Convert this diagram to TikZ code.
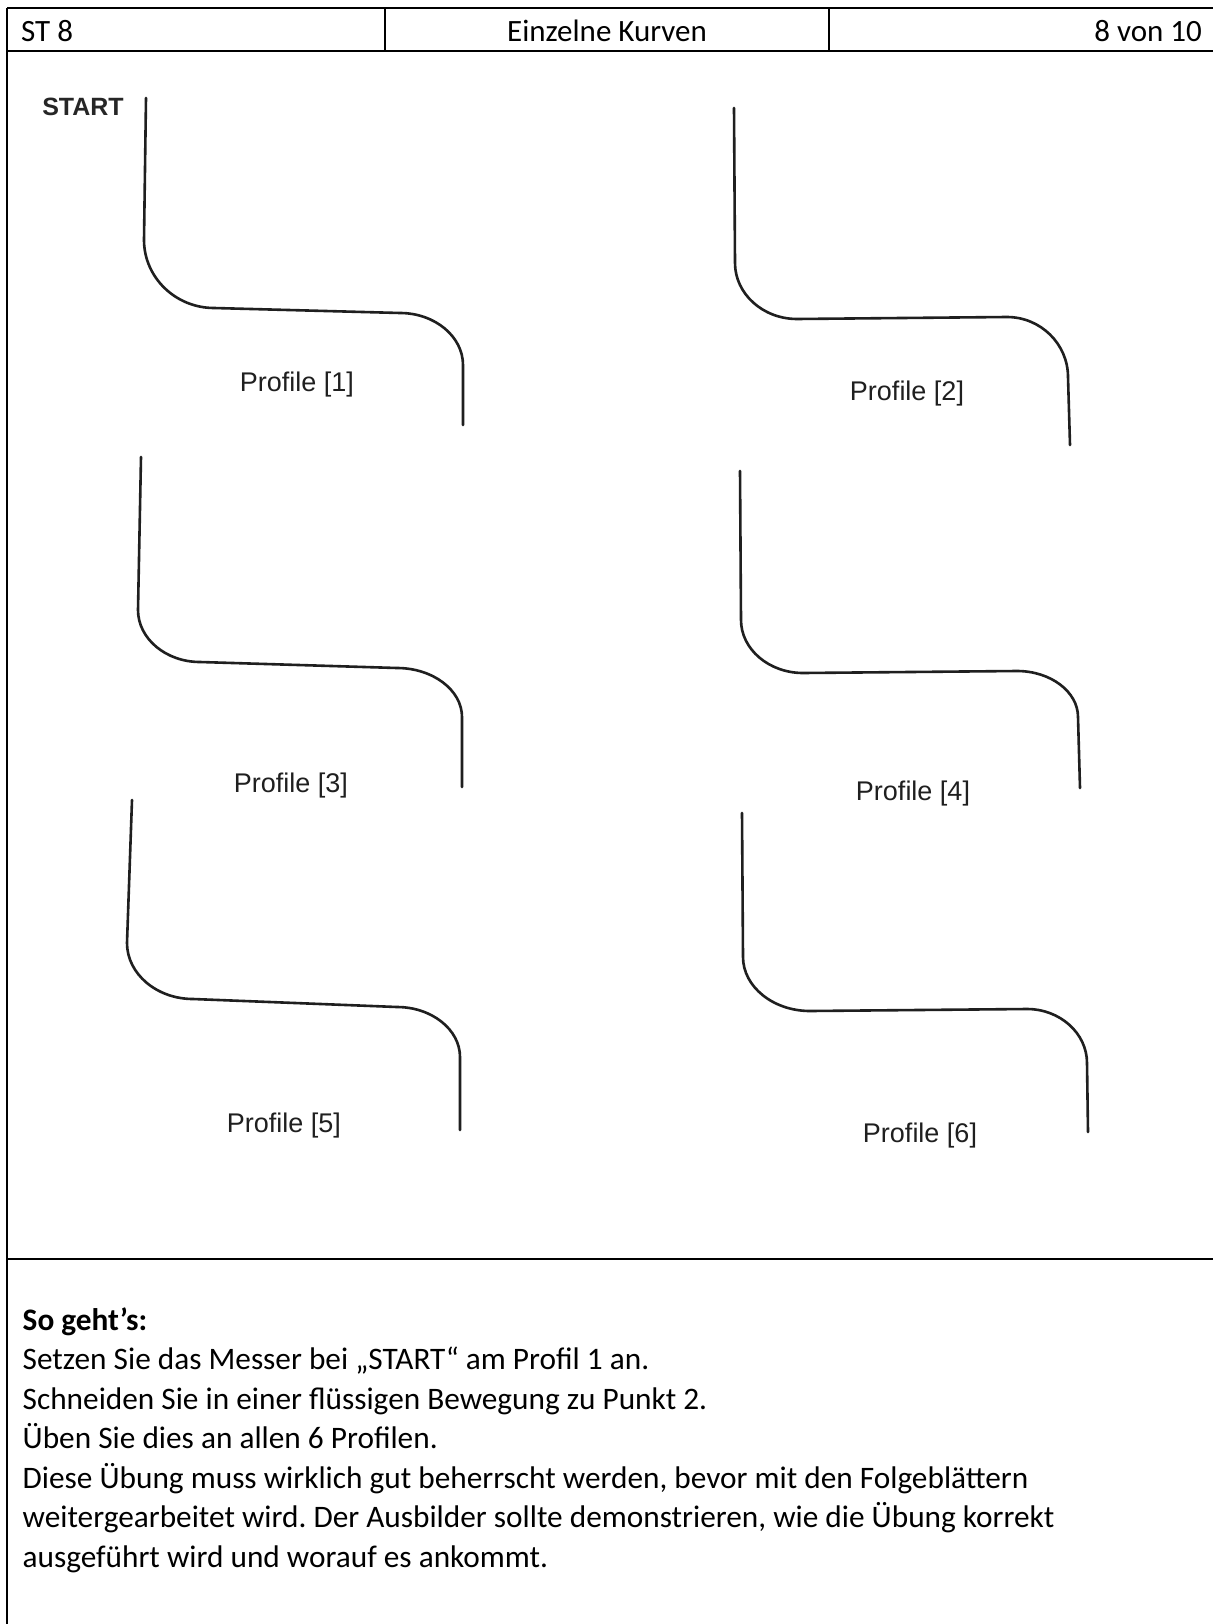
\documentclass[tikz,border=0pt]{standalone}
\usepackage{fontspec}
\setmainfont{Carlito}
\newfontfamily\labelfont{Liberation Sans}
\frenchspacing
\begin{document}
\begin{tikzpicture}[x=1pt,y=-1pt,
  tableline/.style={line width=2.2pt, draw=black},
  cutline/.style={line width=2.6pt, draw=black!88, line cap=round, line join=round},
  proflabel/.style={font=\labelfont\fontsize{27}{32}\selectfont, text=black!88, inner sep=0pt},
  startlabel/.style={font=\labelfont\bfseries\fontsize{25}{29}\selectfont, text=black!85, inner sep=0pt},
  headtext/.style={font=\fontsize{31}{38}\selectfont, inner sep=0pt},
  bodytext/.style={font=\fontsize{31.3}{38}\selectfont, anchor=base west, inner sep=0pt}]
\useasboundingbox (0,0) rectangle (1213,1624);
\fill[white] (0,0) rectangle (1213,1624);

% table frame
\draw[tableline] (7,8.3) -- (1213,8.3);
\draw[tableline] (7,51) -- (1213,51);
\draw[tableline] (7,8.3) -- (7,1624);
\draw[tableline] (385,8.3) -- (385,51);
\draw[tableline] (829,8.3) -- (829,51);
\draw[tableline] (7,1259) -- (1213,1259);

% header
\node[headtext, anchor=base west] (st) at (21,42) {ST 8};
\node[headtext, anchor=base] (title) at (607,42) {Einzelne Kurven};
\node[headtext, anchor=base east] (page) at (1202,42) {8 von 10};

% profiles
\foreach \tx/\ty/\ax/\ay/\bx/\by/\cx/\cy/\dx/\dy/\ex/\ey in {
  146/98/144/240/214/308/400/313/463/365/463/425,
  734/108/735/263/797/319/1007/317/1068/377/1070/445,
  141/457/138/610/200/662/397/668/462/717/462/787,
  740/471/741/620/803/673/1017/671/1078/717/1080/788,
  132/800/127/943/193/999/397/1007/460/1057/460/1130,
  742/813/743/957/810/1011/1027/1009/1087/1063/1088/1132}{
  \draw[cutline] (\tx,\ty) -- (\ax,\ay)
    .. controls (\ax,{\ay+0.55*(\by-\ay)}) and ({\bx-0.55*(\bx-\ax)},\by) .. (\bx,\by)
    -- (\cx,\cy)
    .. controls ({\cx+0.55*(\dx-\cx)},\cy) and (\dx,{\dy-0.55*(\dy-\cy)}) .. (\dx,\dy)
    -- (\ex,\ey);
}

\node[startlabel] (start) at (83,107) {START};
\node[proflabel] (p1) at (297,385) {Profile [1]};
\node[proflabel] (p2) at (907,394) {Profile [2]};
\node[proflabel] (p3) at (291,786) {Profile [3]};
\node[proflabel] (p4) at (913,794) {Profile [4]};
\node[proflabel] (p5) at (284,1126) {Profile [5]};
\node[proflabel] (p6) at (920,1136) {Profile [6]};

% instructions
\node[bodytext] (l0) at (22.5,1330) {\bfseries So geht’s:};
\node[bodytext] (l1) at (22.5,1369.5) {Setzen Sie das Messer bei „START“ am Profil 1 an.};
\node[bodytext] (l2) at (22.5,1409) {Schneiden Sie in einer flüssigen Bewegung zu Punkt 2.};
\node[bodytext] (l3) at (22.5,1448.5) {Üben Sie dies an allen 6 Profilen.};
\node[bodytext] (l4) at (22.5,1488) {Diese Übung muss wirklich gut beherrscht werden, bevor mit den Folgeblättern};
\node[bodytext] (l5) at (22.5,1527.5) {weitergearbeitet wird. Der Ausbilder sollte demonstrieren, wie die Übung korrekt};
\node[bodytext] (l6) at (22.5,1567) {ausgeführt wird und worauf es ankommt.};
\end{tikzpicture}
\end{document}
